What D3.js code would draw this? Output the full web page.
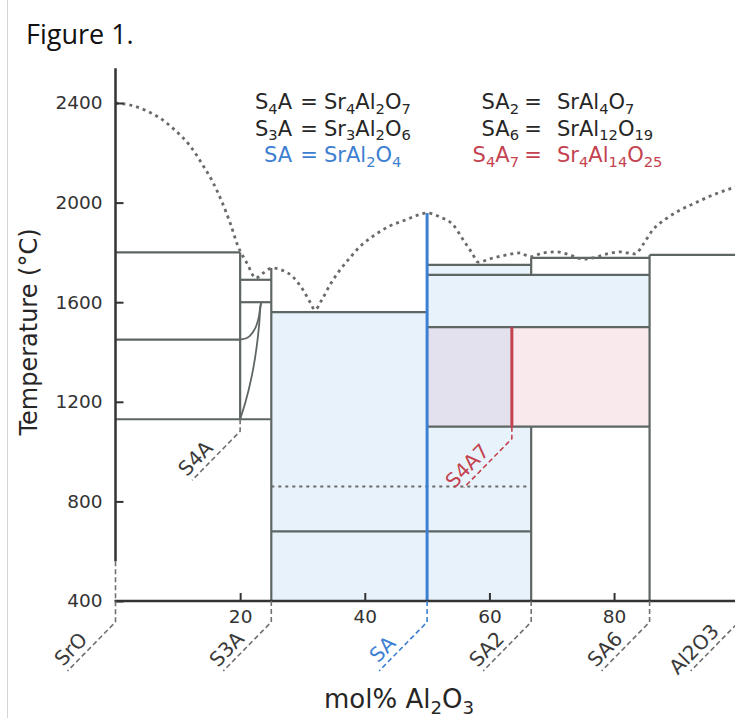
<!DOCTYPE html>
<html>
<head>
<meta charset="utf-8">
<script src="https://cdn.jsdelivr.net/npm/d3@7"></script>
<style>
  body { margin: 0; background: #fff; }
  svg { display: block; }
</style>
</head>
<body>
<svg id="chart" width="735" height="718"></svg>
<script>
// ---- Compounds on the composition axis (mol% Al2O3) ----
const phaseNames = ["SrO", "S4A", "S3A", "SA", "S4A7", "SA2", "SA6", "Al2O3"];
const phaseMol   = [0, 20, 25, 50, 63.6, 66.7, 85.7, 100];
// temperature (°C) at which each compound's dashed leader begins
const leaderStartT = [560, 1130, 400, 400, 1100, 400, 400, 400];

// ---- Axis ticks ----
const yTicks = [400, 800, 1200, 1600, 2000, 2400];
const xTicks = [20, 40, 60, 80];

// ---- Liquidus (mol% Al2O3, °C) ----
const liquidusMol = [0, 2.3, 4.7, 7.1, 9.5, 12.0, 14.0, 15.6, 17.1, 18.4, 19.7, 21.1, 22.5,
  23.7, 25.1, 26.7, 28.5, 30.1, 31.2, 32.0, 33.1, 34.4, 36.0, 37.6, 39.5, 41.6, 44.0, 46.5,
  48.5, 50, 52.1, 54.2, 55.8, 57.2, 58.2, 60.6, 62.8, 64.9, 66.5, 68.6, 70.8, 72.9, 75.0,
  76.6, 78.9, 81.0, 83.4, 84.6, 86.2, 88.5, 90.6, 93.3, 95.9, 99.1, 100];
const liquidusT = [2400, 2392, 2372, 2340, 2292, 2227, 2151, 2083, 2002, 1918, 1822, 1757, 1697,
  1717, 1737, 1729, 1701, 1649, 1601, 1569, 1609, 1669, 1729, 1778, 1830, 1870, 1906, 1930,
  1950, 1958, 1942, 1910, 1850, 1798, 1761, 1778, 1790, 1798, 1782, 1798, 1802, 1790, 1773,
  1778, 1794, 1802, 1794, 1830, 1890, 1938, 1970, 2002, 2031, 2059, 2065];

// ---- Isotherms: [from mol%, to mol%, °C] ----
const isotherms = [
  [0, 20, 1800], [0, 20, 1450], [0, 25, 1130],
  [20, 25, 1690], [20, 25, 1600],
  [25, 50, 1560],
  [50, 66.7, 1750], [66.7, 85.7, 1778], [50, 85.7, 1710], [50, 85.7, 1500], [50, 85.7, 1100],
  [85.7, 100, 1790],
  [25, 66.7, 680]
];
const dottedIsotherms = [[25, 66.7, 860]];

// ---- Vertical boundaries: [mol%, top °C, bottom °C] ----
const greyBoundaries = [
  [20, 1800, 1130], [25, 1737, 400], [66.7, 1778, 1710], [66.7, 1100, 400],
  [85.7, 1790, 400], [100, 1790, 400]
];
const saLine   = [50, 1958, 400];
const s4a7Line = [63.6, 1500, 1100];

// ---- Transition curves between S4A and S3A (mol%, °C) ----
const curveUpperMol = [20, 21.0, 22.1, 22.9, 23.3, 23.4];
const curveUpperT   = [1450, 1455, 1482, 1530, 1590, 1600];
const curveLowerMol = [20, 20.8, 21.85, 22.65, 23.07, 23.3, 23.4];
const curveLowerT   = [1130, 1194, 1301, 1421, 1515, 1589, 1600];

// ---- Shaded fields: [from mol%, to mol%, low °C, high °C, field] ----
const fields = [
  [25, 50, 400, 1560, "SA"],
  [50, 66.7, 400, 1100, "SA"],
  [50, 63.6, 1100, 1500, "SA+S4A7"],
  [63.6, 85.7, 1100, 1500, "S4A7"],
  [50, 85.7, 1500, 1710, "SA"],
  [50, 66.7, 1710, 1750, "SA"]
];

// ---- Key ----
const keyLeft  = ["S_4A = Sr_4Al_2O_7", "S_3A = Sr_3Al_2O_6", "SA = SrAl_2O_4"];
const keyRight = ["SA_2 = SrAl_4O_7", "SA_6 = SrAl_12O_19", "S_4A_7 = Sr_4Al_14O_25"];

// ---- Styling ----
const C = {
  axis: "#333",
  grey: "#5e6664",
  dots: "#6a6a6a",
  blue: "#3d7fd0",
  red: "#c4424f",
  text: "#262626",
  fill: { "SA": "#e7f2fa", "SA+S4A7": "#e3e1ed", "S4A7": "#f9e8ec" }
};
const FONT = "'DejaVu Sans', Verdana, sans-serif";

const svg = d3.select("#chart");
const x = d3.scaleLinear().domain([0, 100]).range([115.5, 738.7]);
const y = d3.scaleLinear().domain([400, 2400]).range([601, 103]);

// thin frame line on the left edge
svg.append("line").attr("x1", 7.5).attr("x2", 7.5).attr("y1", 0).attr("y2", 718)
  .attr("stroke", "#d4d4d4").attr("stroke-width", 1);

// title
svg.append("text").attr("x", 26).attr("y", 44)
  .attr("font-family", "'Open Sans', sans-serif").attr("font-size", 27)
  .attr("fill", "#111").text("Figure 1.");

// shaded fields
svg.append("g").selectAll("rect").data(fields).join("rect")
  .attr("x", d => x(d[0])).attr("width", d => x(d[1]) - x(d[0]))
  .attr("y", d => y(d[3])).attr("height", d => y(d[2]) - y(d[3]))
  .attr("fill", d => C.fill[d[4]]);

// isotherms and boundaries
const lines = svg.append("g").attr("stroke", C.grey).attr("stroke-width", 2.2).attr("fill", "none");
lines.selectAll("line.iso").data(isotherms).join("line").attr("class", "iso")
  .attr("x1", d => x(d[0])).attr("x2", d => x(d[1]))
  .attr("y1", d => y(d[2])).attr("y2", d => y(d[2]));
lines.selectAll("line.bnd").data(greyBoundaries).join("line").attr("class", "bnd")
  .attr("x1", d => x(d[0])).attr("x2", d => x(d[0]))
  .attr("y1", d => y(d[1])).attr("y2", d => y(d[2]));

// transition curves
const curve = d3.line().x(d => x(d[0])).y(d => y(d[1])).curve(d3.curveMonotoneY);
lines.append("path").attr("d", curve(d3.zip(curveUpperMol, curveUpperT))).attr("stroke-width", 1.8);
lines.append("path").attr("d", curve(d3.zip(curveLowerMol, curveLowerT))).attr("stroke-width", 1.8);

// dotted isotherm
svg.append("g").selectAll("line").data(dottedIsotherms).join("line")
  .attr("x1", d => x(d[0])).attr("x2", d => x(d[1]))
  .attr("y1", d => y(d[2])).attr("y2", d => y(d[2]))
  .attr("stroke", C.dots).attr("stroke-width", 2).attr("stroke-dasharray", "3 4");

// liquidus
const liq = d3.line().x(d => x(d[0])).y(d => y(d[1])).curve(d3.curveMonotoneX);
svg.append("path").attr("d", liq(d3.zip(liquidusMol, liquidusT)))
  .attr("fill", "none").attr("stroke", C.dots).attr("stroke-width", 2.8)
  .attr("stroke-dasharray", "3 4");

// SA and S4A7 composition lines
svg.append("line").attr("x1", x(saLine[0])).attr("x2", x(saLine[0]))
  .attr("y1", y(saLine[1])).attr("y2", y(saLine[2]))
  .attr("stroke", C.blue).attr("stroke-width", 3);
svg.append("line").attr("x1", x(s4a7Line[0])).attr("x2", x(s4a7Line[0]))
  .attr("y1", y(s4a7Line[1])).attr("y2", y(s4a7Line[2]))
  .attr("stroke", C.red).attr("stroke-width", 3);

// axes
const yAxis = d3.axisLeft(y).tickValues(yTicks).tickFormat(d3.format("d"))
  .tickSizeInner(-8).tickSizeOuter(0).tickPadding(13);
const gy = svg.append("g").attr("transform", `translate(${x(0)},0)`).call(yAxis);
gy.select(".domain").remove();
const xAxis = d3.axisBottom(x).tickValues(xTicks).tickFormat(d3.format("d"))
  .tickSizeInner(-8).tickSizeOuter(0).tickPadding(9);
const gx = svg.append("g").attr("transform", `translate(0,${y(400)})`).call(xAxis);
gx.select(".domain").remove();
[gx, gy].forEach(g => {
  g.selectAll("line").attr("stroke", C.axis).attr("stroke-width", 2);
  g.selectAll("text").attr("font-family", FONT).attr("font-size", 18.5).attr("fill", C.axis);
});
svg.append("line").attr("x1", x(0)).attr("x2", x(0)).attr("y1", y(2540)).attr("y2", y(560))
  .attr("stroke", C.axis).attr("stroke-width", 2.5);
svg.append("line").attr("x1", x(0) - 1).attr("x2", x(100)).attr("y1", y(400)).attr("y2", y(400))
  .attr("stroke", C.axis).attr("stroke-width", 2.5);

// text with _digits rendered as subscripts
function rich(textSel, str, size) {
  const re = /_(\d+)|([^_]+)/g;
  let m, down = false;
  const shift = size * 0.22;
  while ((m = re.exec(str))) {
    const t = textSel.append("tspan");
    if (m[1]) {
      t.text(m[1]).attr("font-size", size * 0.7);
      if (!down) { t.attr("dy", shift); down = true; }
    } else {
      t.text(m[2]);
      if (down) { t.attr("dy", -shift); down = false; }
    }
  }
  return textSel;
}

// axis titles
svg.append("text").attr("transform", "translate(37,332) rotate(-90)")
  .attr("text-anchor", "middle").attr("font-family", FONT).attr("font-size", 24)
  .attr("fill", C.text).text("Temperature (°C)");
rich(svg.append("text").attr("x", 399).attr("y", 708).attr("text-anchor", "middle")
  .attr("font-family", FONT).attr("font-size", 26).attr("fill", C.text), "mol% Al_2O_3", 26);

// key
const keySize = 21;
const keyRows = [109, 135.5, 162];
function keyColumn(rows, colors, leftEnd, eqX, formulaX) {
  rows.forEach((s, i) => {
    const [abbr, formula] = s.split(" = ");
    const base = { "font-family": FONT, "font-size": keySize, fill: colors[i] };
    const a = svg.append("text").attr("x", leftEnd).attr("y", keyRows[i]).attr("text-anchor", "end");
    const e = svg.append("text").attr("x", eqX).attr("y", keyRows[i]).attr("text-anchor", "middle").text("=");
    const f = svg.append("text").attr("x", formulaX).attr("y", keyRows[i]);
    [a, e, f].forEach(t => Object.entries(base).forEach(([k, v]) => t.attr(k, v)));
    rich(a, abbr, keySize);
    rich(f, formula, keySize);
  });
}
keyColumn(keyLeft, [C.text, C.text, C.blue], 292, 309, 324);
keyColumn(keyRight, [C.text, C.text, C.red], 519, 533, 557);

// compound leaders with rotated names
const legDX = 48, legDY = 49;
const len = Math.hypot(legDX, legDY);
const ux = legDX / len, uy = -legDY / len;      // along the leader, up-right
const nx = uy, ny = -ux;                        // normal pointing up-left
const angle = Math.atan2(-legDY, legDX) * 180 / Math.PI;
const leaderColor = n => n === "SA" ? C.blue : n === "S4A7" ? C.red : "#707070";
phaseNames.forEach((name, i) => {
  const px = x(phaseMol[i]);
  const py = y(leaderStartT[i]);
  const cornerY = leaderStartT[i] <= 600 ? y(400) + 21 : py + 12;
  const endX = px - legDX, endY = cornerY + legDY;
  const col = leaderColor(name);
  svg.append("path")
    .attr("d", `M${px},${py}L${px},${cornerY}L${endX},${endY}`)
    .attr("fill", "none").attr("stroke", col).attr("stroke-width", 1.6)
    .attr("stroke-dasharray", "5 3");
  const tx = endX + ux * 18 + nx * 6, ty = endY + uy * 18 + ny * 6;
  svg.append("text").attr("transform", `translate(${tx},${ty}) rotate(${angle})`)
    .attr("text-anchor", "middle").attr("font-family", FONT).attr("font-size", 20)
    .attr("fill", col === "#707070" ? "#3a3a3a" : col).text(name);
});
</script>
</body>
</html>
